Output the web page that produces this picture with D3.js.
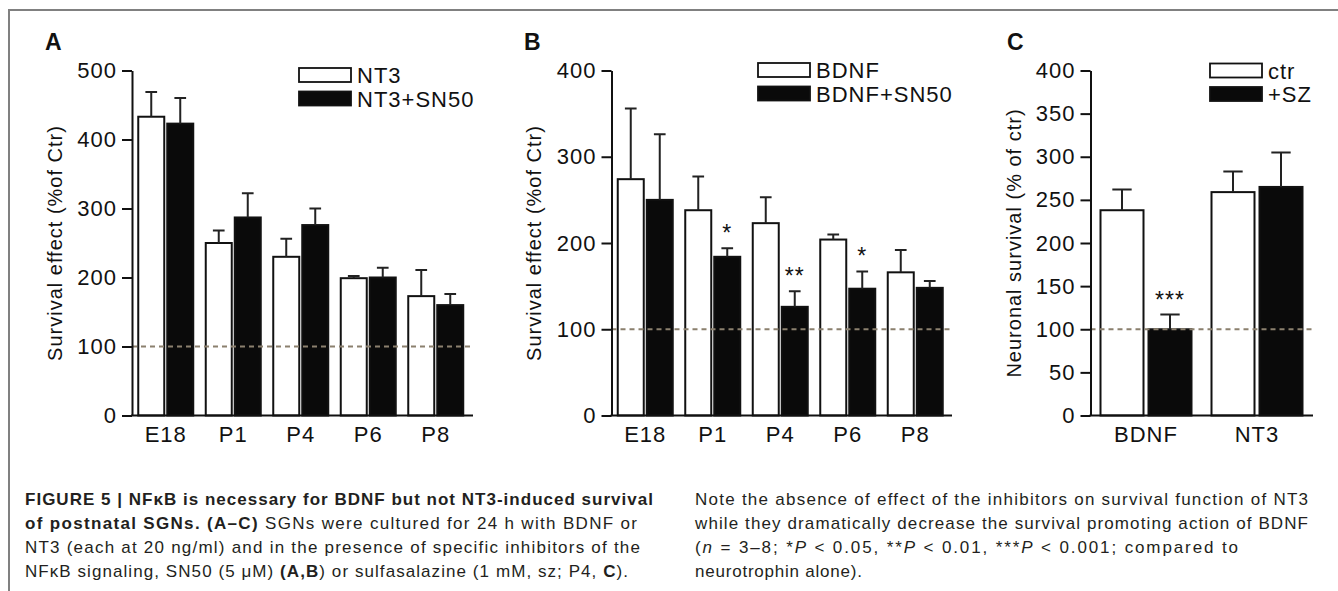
<!DOCTYPE html>
<html>
<head>
<meta charset="utf-8">
<script src="https://cdn.jsdelivr.net/npm/d3@7"></script>
<style>
body { margin: 0; background: #fff; }
svg text { font-family: "Liberation Sans", Arial, sans-serif; fill: #111; }
</style>
</head>
<body>
<svg id="svg" width="1338" height="591"></svg>
<script>
// A - NT3 with / without SN50
var stagesA = ["E18", "P1", "P4", "P6", "P8"]
var nt3 = [433, 250, 230, 199, 173]
var nt3Sem = [36, 18, 26, 3, 38]
var nt3Sn50 = [423, 287, 276, 200, 160]
var nt3Sn50Sem = [37, 35, 24, 14, 16]
var ticksA = [0, 100, 200, 300, 400, 500]

// B - BDNF with / without SN50
var stagesB = ["E18", "P1", "P4", "P6", "P8"]
var bdnf = [274, 238, 223, 204, 166]
var bdnfSem = [82, 39, 30, 6, 26]
var bdnfSn50 = [250, 184, 126, 147, 148]
var bdnfSn50Sem = [76, 10, 18, 20, 8]
var starsB = ["", "*", "**", "*", ""]
var ticksB = [0, 100, 200, 300, 400]

// C - sulfasalazine
var groupsC = ["BDNF", "NT3"]
var ctr = [238, 259]
var ctrSem = [24, 24]
var sz = [100, 265]
var szSem = [17, 40]
var starsC = ["***", ""]
var ticksC = [0, 50, 100, 150, 200, 250, 300, 350, 400]

// caption: segments [text, style]  b = bold, i = italic
var captionLeft = [
	[["FIGURE 5 | NFκB is necessary for BDNF but not NT3-induced survival", "b"]],
	[["of postnatal SGNs. (A–C)", "b"], [" SGNs were cultured for 24 h with BDNF or", ""]],
	[["NT3 (each at 20 ng/ml) and in the presence of specific inhibitors of the", ""]],
	[["NFκB signaling, SN50 (5 μM) ", ""], ["(A,B", "b"], [") or sulfasalazine (1 mM, sz; P4, ", ""], ["C", "b"], [").", ""]]
]
var captionRight = [
	[["Note the absence of effect of the inhibitors on survival function of NT3", ""]],
	[["while they dramatically decrease the survival promoting action of BDNF", ""]],
	[["(", ""], ["n", "i"], [" = 3–8; *", ""], ["P", "i"], [" < 0.05, **", ""], ["P", "i"], [" < 0.01, ***", ""], ["P", "i"], [" < 0.001; compared to", ""]],
	[["neurotrophin alone).", ""]]
]

var svg = d3.select("#svg")

// frame
svg.append("path").attr("d", "M9,591 V10 H1338")
	.attr("fill", "none").attr("stroke", "#808080").attr("stroke-width", 2)

function panel(p) {
	var g = svg.append("g")
	var y = d3.scaleLinear().domain([0, p.max]).range([415.5, 70.5])
	var n = p.cats.length
	var pin = (p.step - 2 * p.barW - p.gap) / p.step
	var x0 = d3.scaleBand().domain(p.cats)
		.range([p.axisX, p.axisX + n * p.step])
		.paddingInner(pin).paddingOuter(pin / 2)
	var x1 = d3.scaleBand().domain([0, 1]).range([0, x0.bandwidth()])
		.paddingInner(p.gap / (p.barW + p.gap))
	var axisEnd = x0.range()[1] + p.extra

	// bars
	p.series.forEach(function (s, k) {
		g.selectAll(null).data(s.vals).enter().append("rect")
			.attr("x", function (d, i) { return x0(p.cats[i]) + x1(k) })
			.attr("y", function (d) { return y(d) })
			.attr("width", x1.bandwidth())
			.attr("height", function (d) { return y(0) - y(d) })
			.attr("fill", s.fill)
			.attr("stroke", "#111")
			.attr("stroke-width", 2)

		// error bars, upper half only
		var cap = x1.bandwidth() * 0.45
		s.vals.forEach(function (v, i) {
			var cx = x0(p.cats[i]) + x1(k) + x1.bandwidth() / 2
			var top = y(v + s.sem[i])
			g.append("path")
				.attr("d", "M" + cx + "," + y(v) + " V" + top + " M" + (cx - cap / 2) + "," + top + " H" + (cx + cap / 2))
				.attr("stroke", "#222").attr("stroke-width", 2).attr("fill", "none")
			if (s.stars && s.stars[i])
				g.append("text")
					.attr("x", cx).attr("y", top - 7)
					.attr("text-anchor", "middle")
					.style("font-size", "23px")
					.style("letter-spacing", "1px")
					.text(s.stars[i])
		})
	})

	// dashed control level
	g.append("line")
		.attr("x1", p.axisX).attr("x2", axisEnd)
		.attr("y1", y(100)).attr("y2", y(100))
		.attr("stroke", "#8b806e").attr("stroke-width", 2)
		.attr("stroke-dasharray", "5,4")

	// axes
	var ya = g.append("g").attr("transform", "translate(" + p.axisX + ",0)")
		.call(d3.axisLeft(y).tickValues(p.ticks).tickSize(10).tickPadding(5).tickSizeOuter(0))
	ya.select(".domain").attr("stroke", "#111").attr("stroke-width", 2)
	ya.selectAll(".tick line").attr("stroke", "#111").attr("stroke-width", 2)
	ya.selectAll("text").style("font-size", "22px").style("letter-spacing", "1px")
		.style("font-family", null).attr("fill", "#111")

	g.append("line")
		.attr("x1", p.axisX - 1).attr("x2", axisEnd)
		.attr("y1", y(0)).attr("y2", y(0))
		.attr("stroke", "#111").attr("stroke-width", 2)

	var xa = g.append("g").attr("transform", "translate(0," + y(0) + ")")
		.call(d3.axisBottom(x0).tickSize(0).tickPadding(11))
	xa.select(".domain").remove()
	xa.selectAll("text").style("font-size", "22px").style("letter-spacing", "1px")
		.style("font-family", null).attr("fill", "#111")

	// axis title
	g.append("text")
		.attr("transform", "translate(" + p.titleX + ",243) rotate(-90)")
		.attr("text-anchor", "middle")
		.style("font-size", "20px")
		.style("letter-spacing", "1px")
		.text(p.title)

	// panel letter
	g.append("text").attr("x", p.letterX).attr("y", 50)
		.style("font-size", "23px").style("font-weight", "bold")
		.text(p.letter)

	// legend
	p.series.forEach(function (s, k) {
		var ly = p.legY + k * 23.5
		g.append("rect")
			.attr("x", p.legX).attr("y", ly)
			.attr("width", 52).attr("height", 14)
			.attr("fill", s.fill).attr("stroke", "#111").attr("stroke-width", 1.8)
		g.append("text")
			.attr("x", p.legX + 58).attr("y", ly + 15)
			.style("font-size", "22px").style("letter-spacing", "1px")
			.text(s.name)
	})
}

panel({
	cats: stagesA, max: 500, ticks: ticksA,
	axisX: 132, step: 67.5, barW: 26, gap: 3, extra: 3.5,
	title: "Survival effect (%of Ctr)", titleX: 62,
	letter: "A", letterX: 45, legX: 299, legY: 68,
	series: [
		{name: "NT3", vals: nt3, sem: nt3Sem, fill: "#fff"},
		{name: "NT3+SN50", vals: nt3Sn50, sem: nt3Sn50Sem, fill: "#0a0a0a"}
	]
})

panel({
	cats: stagesB, max: 400, ticks: ticksB,
	axisX: 611.5, step: 67.5, barW: 26, gap: 3, extra: 3,
	title: "Survival effect (%of Ctr)", titleX: 540.5,
	letter: "B", letterX: 524, legX: 758, legY: 63,
	series: [
		{name: "BDNF", vals: bdnf, sem: bdnfSem, fill: "#fff"},
		{name: "BDNF+SN50", vals: bdnfSn50, sem: bdnfSn50Sem, fill: "#0a0a0a", stars: starsB}
	]
})

panel({
	cats: groupsC, max: 400, ticks: ticksC,
	axisX: 1090.5, step: 111, barW: 43, gap: 5, extra: 0.5,
	title: "Neuronal survival (% of ctr)", titleX: 1020.5,
	letter: "C", letterX: 1007, legX: 1210, legY: 63.5,
	series: [
		{name: "ctr", vals: ctr, sem: ctrSem, fill: "#fff"},
		{name: "+SZ", vals: sz, sem: szSem, fill: "#0a0a0a", stars: starsC}
	]
})

// caption
function caption(lines, x, widths) {
	lines.forEach(function (segs, i) {
		var t = svg.append("text")
			.attr("x", x).attr("y", 505 + i * 24)
			.attr("textLength", widths[i])
			.attr("lengthAdjust", "spacing")
			.style("font-size", "17px")
			.style("fill", "#231f20")
		segs.forEach(function (s) {
			t.append("tspan")
				.style("font-weight", s[1] == "b" ? "bold" : "normal")
				.style("font-style", s[1] == "i" ? "italic" : "normal")
				.text(s[0])
		})
	})
}
caption(captionLeft, 25, [628, 612, 615, 603])
caption(captionRight, 695, [613, 613, 543, 167])
</script>
</body>
</html>
